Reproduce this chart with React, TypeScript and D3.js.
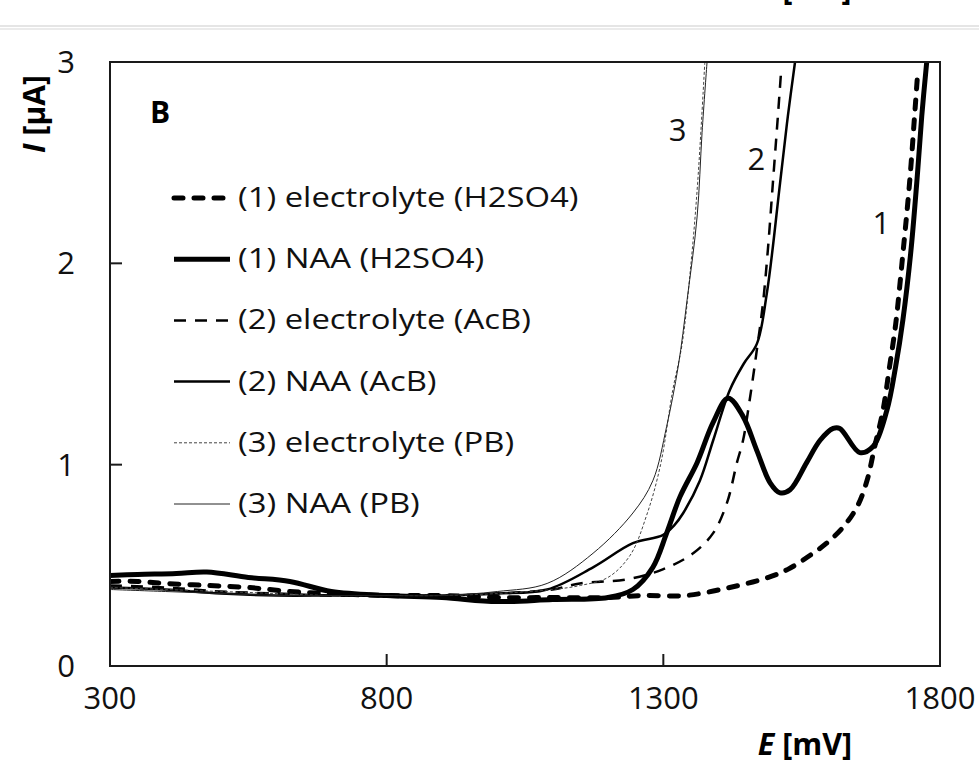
import React from "react";
import * as d3 from "d3";

const width = 979;
const height = 765;
const margin = { left: 110, right: 39, top: 62, bottom: 99 };
const innerW = width - margin.left - margin.right;
const innerH = height - margin.top - margin.bottom;

// x ticks (mV), y ticks (µA)
const xTicks = [300, 800, 1300, 1800];
const yTicks = [0, 1, 2, 3];

// (1) electrolyte (H2SO4)
const e1E = [300, 350, 400, 475, 550, 625, 700, 800, 900, 1000, 1100, 1200, 1260, 1340, 1420, 1490, 1525, 1560, 1595, 1625, 1650, 1668, 1682, 1697, 1709, 1720, 1733, 1745, 1754, 1760];
const e1I = [0.42, 0.42, 0.41, 0.4, 0.39, 0.37, 0.36, 0.35, 0.35, 0.34, 0.34, 0.34, 0.35, 0.35, 0.39, 0.44, 0.48, 0.54, 0.61, 0.69, 0.79, 0.92, 1.09, 1.27, 1.49, 1.7, 2.05, 2.4, 2.73, 2.96];
// (1) NAA (H2SO4)
const n1E = [300, 350, 420, 475, 550, 625, 700, 800, 900, 1000, 1100, 1200, 1245, 1281, 1306, 1330, 1361, 1390, 1417, 1444, 1469, 1493, 1511, 1529, 1559, 1583, 1607, 1619, 1655, 1679, 1704, 1720, 1733, 1747, 1758, 1767, 1776];
const n1I = [0.45, 0.455, 0.46, 0.467, 0.44, 0.42, 0.37, 0.35, 0.34, 0.32, 0.33, 0.34, 0.38, 0.49, 0.66, 0.84, 1.01, 1.21, 1.33, 1.24, 1.07, 0.91, 0.86, 0.875, 1.01, 1.12, 1.18, 1.18, 1.06, 1.09, 1.27, 1.49, 1.72, 2.05, 2.4, 2.73, 3.0];
// (2) electrolyte (AcB)
const e2E = [300, 400, 500, 600, 700, 800, 900, 1000, 1100, 1149, 1234, 1299, 1354, 1390, 1415, 1433, 1444, 1456, 1469, 1480, 1489, 1498, 1507, 1513];
const e2I = [0.4, 0.39, 0.37, 0.36, 0.35, 0.35, 0.35, 0.36, 0.38, 0.41, 0.43, 0.48, 0.56, 0.66, 0.81, 1.01, 1.12, 1.32, 1.57, 1.8, 2.07, 2.4, 2.73, 2.96];
// (2) NAA (AcB)
const n2E = [300, 400, 500, 600, 700, 800, 900, 1000, 1090, 1173, 1245, 1299, 1320, 1336, 1366, 1390, 1420, 1445, 1469, 1487, 1511, 1525, 1538];
const n2I = [0.39, 0.38, 0.36, 0.35, 0.35, 0.35, 0.35, 0.36, 0.38, 0.49, 0.61, 0.65, 0.7, 0.76, 0.92, 1.12, 1.37, 1.5, 1.6, 1.85, 2.4, 2.73, 3.0];
// (3) electrolyte (PB)
const e3E = [300, 400, 500, 600, 700, 800, 900, 1000, 1100, 1150, 1200, 1240, 1270, 1295, 1317, 1334, 1350, 1362, 1375];
const e3I = [0.39, 0.38, 0.37, 0.36, 0.35, 0.35, 0.35, 0.36, 0.38, 0.4, 0.44, 0.55, 0.75, 1.0, 1.37, 1.6, 2.0, 2.4, 3.0];
// (3) NAA (PB)
const n3E = [300, 400, 500, 600, 700, 800, 900, 1000, 1090, 1173, 1245, 1281, 1306, 1327, 1343, 1361, 1370, 1379];
const n3I = [0.38, 0.37, 0.36, 0.35, 0.35, 0.35, 0.35, 0.37, 0.41, 0.56, 0.76, 0.92, 1.19, 1.49, 1.82, 2.23, 2.65, 3.0];

const seriesNames = [
  "(1) electrolyte (H2SO4)",
  "(1) NAA (H2SO4)",
  "(2) electrolyte (AcB)",
  "(2) NAA (AcB)",
  "(3) electrolyte (PB)",
  "(3) NAA (PB)",
];

// curve number labels: [text, E, I]
const curveLabels: [string, number, number][] = [
  ["3", 1326, 2.66],
  ["2", 1468, 2.52],
  ["1", 1694, 2.2],
];

const styles = [
  { w: 5, dash: "9 11", cap: "round", color: "#000" },
  { w: 5, dash: null, cap: "butt", color: "#000" },
  { w: 2.5, dash: "12 9", cap: "butt", color: "#000" },
  { w: 2.5, dash: null, cap: "butt", color: "#000" },
  { w: 1, dash: "3 2", cap: "butt", color: "#444" },
  { w: 1, dash: null, cap: "butt", color: "#222" },
];

const font = "'Open Sans', 'Noto Sans', sans-serif";

const App = () => {
  const x = d3.scaleLinear().domain([300, 1800]).range([0, innerW]);
  const y = d3.scaleLinear().domain([0, 3]).range([innerH, 0]);

  const series = [
    [e1E, e1I],
    [n1E, n1I],
    [e2E, e2I],
    [n2E, n2I],
    [e3E, e3I],
    [n3E, n3I],
  ].map(([es, is]) => es.map((e, i) => [e, is[i]] as [number, number]));

  const line = d3
    .line<[number, number]>()
    .x((d) => x(d[0]))
    .y((d) => y(d[1]))
    .curve(d3.curveCatmullRom.alpha(0.5));

  return (
    <svg
      width={width}
      height={height}
      style={{ position: "absolute", left: 0, top: 0, background: "#fff" }}
      fontFamily={font}
    >
      {/* bottom of the figure above, cut by the page edge */}
      <text x={805} y={0} textAnchor="middle" fontSize={30} fontWeight="bold">
        <tspan fontStyle="italic">E</tspan> [mV]
      </text>
      <line x1={0} x2={width} y1={26} y2={26} stroke="#dcdcdc" strokeWidth={1.5} />
      <line x1={0} x2={width} y1={29} y2={29} stroke="#e4e4e4" strokeWidth={1.5} />

      <defs>
        <clipPath id="plot-clip">
          <rect x={0} y={0} width={innerW} height={innerH} />
        </clipPath>
      </defs>

      <g transform={`translate(${margin.left},${margin.top})`}>
        <g clipPath="url(#plot-clip)">
          {series.map((s, i) => (
            <path
              key={i}
              d={line(s) || ""}
              fill="none"
              stroke={styles[i].color}
              strokeWidth={styles[i].w}
              strokeDasharray={styles[i].dash || undefined}
              strokeLinecap={styles[i].cap as any}
              strokeLinejoin="round"
            />
          ))}
        </g>

        {/* frame */}
        <rect x={0} y={0} width={innerW} height={innerH} fill="none" stroke="#1a1a1a" strokeWidth={2} />

        {/* ticks */}
        {yTicks.map((t) => (
          <g key={"y" + t}>
            <line x1={0} x2={12} y1={y(t)} y2={y(t)} stroke="#1a1a1a" strokeWidth={2} />
            <text x={-44} y={y(t) + 11} textAnchor="middle" fontSize={31} fill="#111">
              {t}
            </text>
          </g>
        ))}
        {xTicks.map((t) => (
          <g key={"x" + t}>
            <line x1={x(t)} x2={x(t)} y1={innerH} y2={innerH - 12} stroke="#1a1a1a" strokeWidth={2} />
            <text x={x(t)} y={innerH + 43} textAnchor="middle" fontSize={31} fill="#111">
              {t}
            </text>
          </g>
        ))}

        {/* panel letter */}
        <text x={50} y={61} textAnchor="middle" fontSize={30} fontWeight="bold">
          B
        </text>

        {/* curve numbers */}
        {curveLabels.map(([t, e, v]) => (
          <text key={t} x={x(e)} y={y(v) + 11} textAnchor="middle" fontSize={31} fill="#111">
            {t}
          </text>
        ))}

        {/* legend (text is drawn horizontally stretched, like the original) */}
        {seriesNames.map((name, i) => {
          const by = 145 + i * 61.2;
          return (
            <g key={name}>
              <line
                x1={64}
                x2={120}
                y1={by - 9}
                y2={by - 9}
                stroke={styles[i].color}
                strokeWidth={styles[i].w}
                strokeDasharray={styles[i].dash || undefined}
                strokeLinecap={styles[i].cap as any}
              />
              <text transform={`translate(128,${by}) scale(1.24,1)`} fontSize={26.5} fill="#111">
                {name}
              </text>
            </g>
          );
        })}
      </g>

      {/* axis titles */}
      <text
        transform="translate(45,114) rotate(-90)"
        textAnchor="middle"
        fontSize={30}
        fontWeight="bold"
      >
        <tspan fontStyle="italic">I</tspan> [µA]
      </text>
      <text x={805} y={755} textAnchor="middle" fontSize={30.5} fontWeight="bold">
        <tspan fontStyle="italic">E</tspan> [mV]
      </text>
    </svg>
  );
};

export default App;
